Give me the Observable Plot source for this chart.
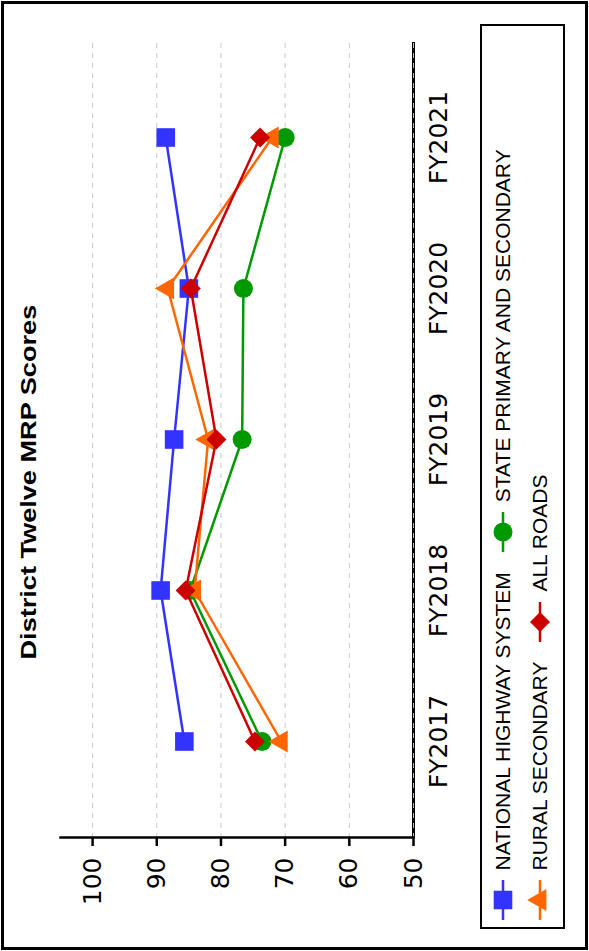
<!DOCTYPE html>
<html>
<head>
<meta charset="utf-8">
<script src="https://cdn.jsdelivr.net/npm/d3@7"></script>
<script src="https://cdn.jsdelivr.net/npm/@observablehq/plot@0.6"></script>
<style>
  html, body { margin: 0; padding: 0; background: #fff; overflow: hidden; }
  body { width: 589px; height: 951px; position: relative; }
  #wrap {
    position: absolute; left: 0; top: 0; width: 951px; height: 589px;
    transform-origin: 0 0; transform: translateY(951px) rotate(-90deg);
    background: #fff;
  }
  #frame {
    position: absolute; left: 1px; top: 1px; width: 949px; height: 587px;
    box-sizing: border-box; border: 3px solid #000;
  }
  #title {
    position: absolute; left: 169px; width: 600px; top: 18px;
    text-align: center; font: bold 22px "Liberation Sans", Arial, sans-serif;
    line-height: 22px; color: #000;
  }
  #title span { display: inline-block; transform-origin: 50% 50%; white-space: nowrap; }
  #chart { position: absolute; left: 0; top: 50px; }
  #legend {
    position: absolute; left: 22px; top: 480px; width: 905px; height: 85px;
    box-sizing: border-box; border: 2.5px solid #000; background: #fff;
  }
  .lrow {
    position: absolute; left: 6.5px; display: flex; align-items: center;
    height: 30px; font: 21px "Liberation Sans", Arial, sans-serif; color: #000;
  }
  .litem { display: flex; align-items: center; margin-right: 20px; }
  .litem svg { margin-right: 10px; }
</style>
</head>
<body>
<div id="wrap">
  <div id="frame"></div>
  <div id="title"><span id="titleText"></span></div>
  <div id="chart"></div>
  <div id="legend"></div>
</div>
<script>
// ---- data ----
const years = ["FY2017", "FY2018", "FY2019", "FY2020", "FY2021"];
const nationalHighway = [85.7, 89.4, 87.3, 85.0, 88.6];
const statePrimarySecondary = [73.6, 84.8, 76.7, 76.5, 70.0];
const ruralSecondary = [70.6, 84.1, 82.0, 88.3, 72.0];
const allRoads = [74.7, 85.5, 80.7, 84.7, 73.9];
const seriesNames = ["NATIONAL HIGHWAY SYSTEM", "STATE PRIMARY AND SECONDARY", "RURAL SECONDARY", "ALL ROADS"];
const seriesColors = ["#3333ff", "#009900", "#ff6600", "#cc0000"];
const yTicks = [50, 60, 70, 80, 90, 100];
const titleText = "District Twelve MRP Scores";

// ---- symbols ----
const symSquare = {draw(c) { const s = 9.3; c.moveTo(-s, -s); c.lineTo(s, -s); c.lineTo(s, s); c.lineTo(-s, s); c.closePath(); }};
const symCircle = {draw(c) { const r = 9.5; c.moveTo(r, 0); c.arc(0, 0, r, 0, 2 * Math.PI); c.closePath(); }};
const symTriangle = {draw(c) { const y = 6.4, x = y * Math.sqrt(3); c.moveTo(0, -2 * y); c.lineTo(x, y); c.lineTo(-x, y); c.closePath(); }};
const symDiamond = {draw(c) { const d = 10; c.moveTo(0, -d); c.lineTo(d, 0); c.lineTo(0, d); c.lineTo(-d, 0); c.closePath(); }};
const seriesSymbols = [symSquare, symCircle, symTriangle, symDiamond];
const seriesValues = [nationalHighway, statePrimarySecondary, ruralSecondary, allRoads];

const rows = [];
seriesNames.forEach((name, i) => {
  years.forEach((yr, j) => rows.push({series: name, year: yr, value: seriesValues[i][j]}));
});

const seriesMarks = [];
seriesNames.forEach((name, i) => {
  const d = rows.filter(r => r.series === name);
  seriesMarks.push(Plot.line(d, {x: "year", y: "value", stroke: seriesColors[i], strokeWidth: 2.5}));
  seriesMarks.push(Plot.dot(d, {x: "year", y: "value", fill: seriesColors[i], stroke: "none", symbol: seriesSymbols[i], r: 9}));
});

const chart = Plot.plot({
  width: 951,
  height: 418,
  marginTop: 10,
  marginBottom: 55,
  marginLeft: 113,
  marginRight: 42,
  style: {fontFamily: "DejaVu Sans", fontSize: "25px", color: "#000", background: "transparent", overflow: "visible"},
  x: {type: "point", domain: years, padding: 0.635},
  y: {domain: [50, 105]},
  marks: [
    Plot.ruleY(yTicks.filter(t => t > 50), {stroke: "#c8c8c8", strokeWidth: 1, strokeDasharray: "5,5"}),
    Plot.ruleY([50], {stroke: "#000", strokeWidth: 3}),
    Plot.ruleY([50], {stroke: "#bbb", strokeWidth: 1, strokeDasharray: "5,5"}),
    Plot.frame({anchor: "left", stroke: "#000", strokeWidth: 2.5}),
    Plot.axisY({ticks: yTicks, tickSize: 8, tickPadding: 12, strokeWidth: 2.5, label: null, fontSize: 25}),
    Plot.axisX({tickSize: 0, tickPadding: 16, label: null, fontSize: 25}),
    ...seriesMarks
  ]
});
document.getElementById("chart").appendChild(chart);

// ---- title (stretched to the reference width) ----
const tspan = document.getElementById("titleText");
tspan.textContent = titleText;
const tw = tspan.getBoundingClientRect();
const natural = tspan.offsetWidth;
tspan.style.transform = `scaleX(${355 / natural})`;

// ---- legend ----
const legend = document.getElementById("legend");
const legendRows = [[0, 1], [2, 3]];
const rowCenters = [23, 60];
legendRows.forEach((idxs, ri) => {
  const row = document.createElement("div");
  row.className = "lrow";
  row.style.top = (rowCenters[ri] - 2.5 - 15) + "px";
  idxs.forEach(i => {
    const item = document.createElement("div");
    item.className = "litem";
    const svg = d3.create("svg").attr("width", 40).attr("height", 26);
    svg.append("line").attr("x1", 0).attr("x2", 40).attr("y1", 13).attr("y2", 13)
      .attr("stroke", seriesColors[i]).attr("stroke-width", 2.5);
    const p = d3.path();
    seriesSymbols[i].draw(p);
    svg.append("path").attr("d", p.toString()).attr("transform", "translate(20,13)").attr("fill", seriesColors[i]);
    item.appendChild(svg.node());
    const t = document.createElement("span");
    t.textContent = seriesNames[i];
    item.appendChild(t);
    row.appendChild(item);
  });
  legend.appendChild(row);
});
</script>
</body>
</html>
